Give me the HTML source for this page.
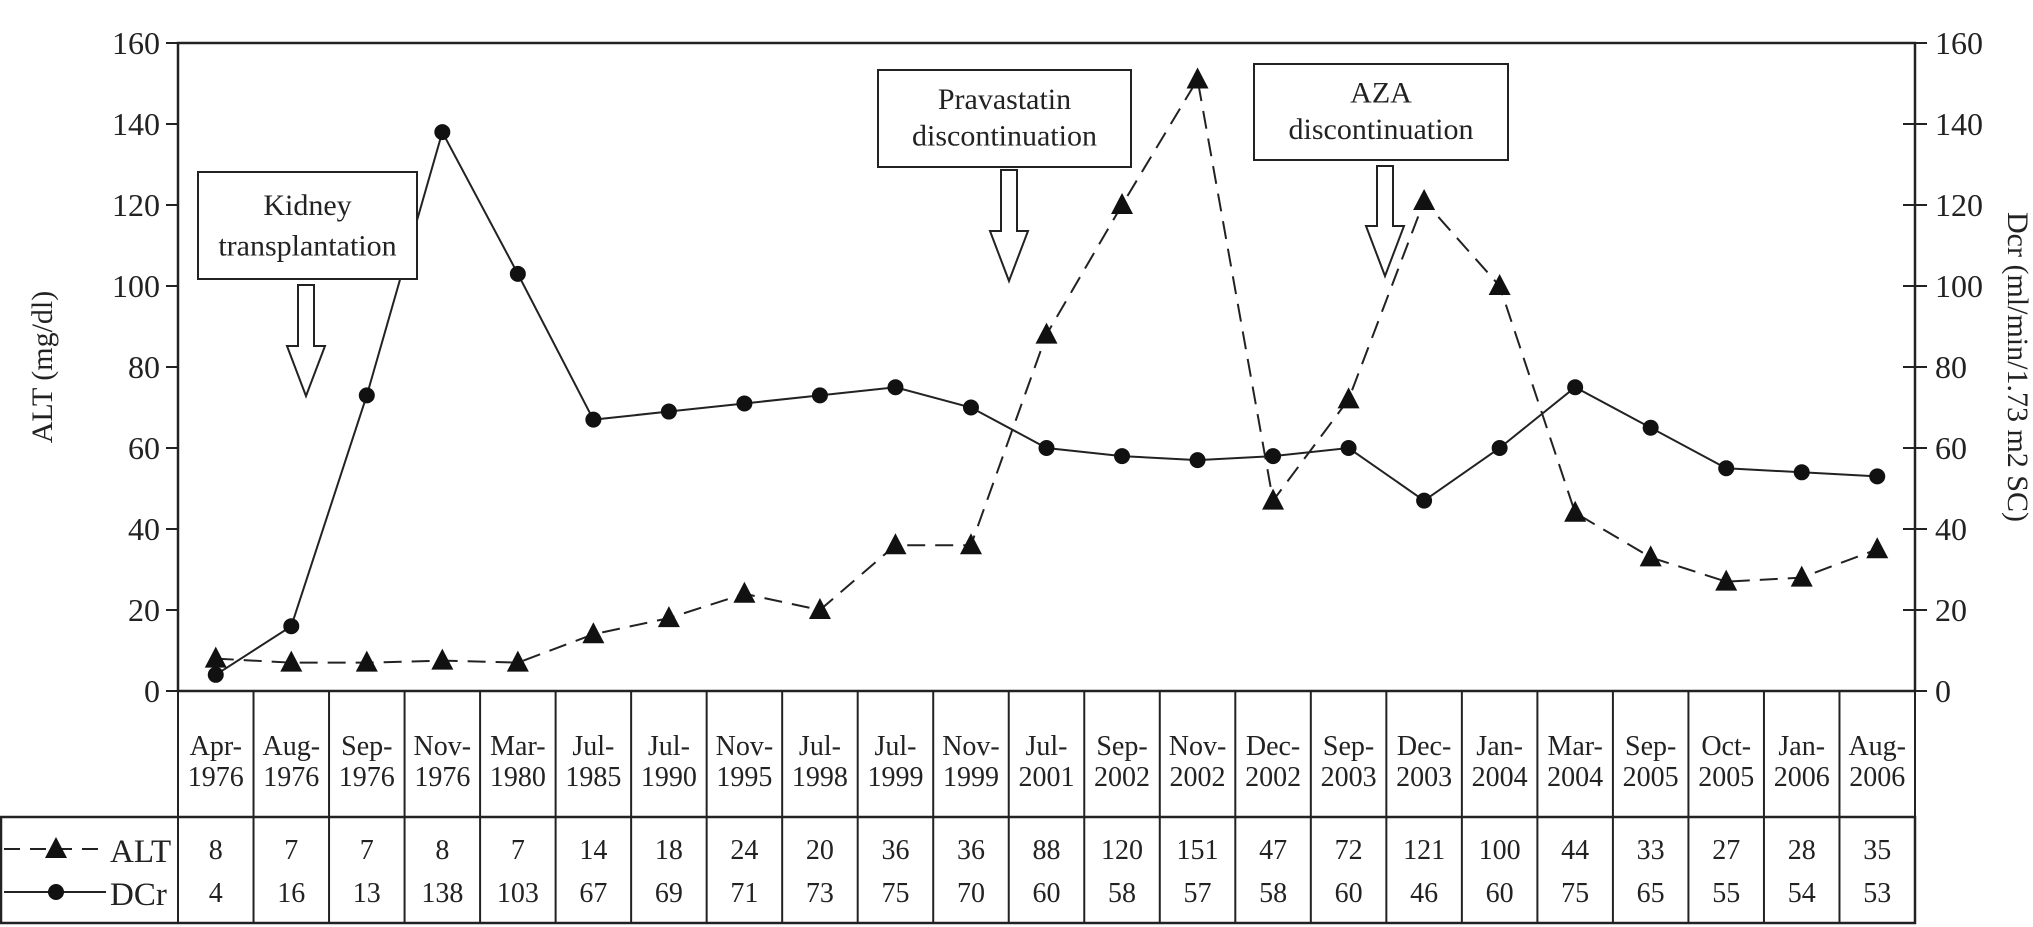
<!DOCTYPE html>
<html><head><meta charset="utf-8"><style>
body{margin:0;background:#fff;}
svg{display:block;font-family:"Liberation Serif",serif;}
</style></head><body>
<svg id="chart" width="2033" height="927" viewBox="0 0 2033 927" xmlns="http://www.w3.org/2000/svg"></svg>
<script>
const categories=[["Apr-","1976"],["Aug-","1976"],["Sep-","1976"],["Nov-","1976"],["Mar-","1980"],["Jul-","1985"],["Jul-","1990"],["Nov-","1995"],["Jul-","1998"],["Jul-","1999"],["Nov-","1999"],["Jul-","2001"],["Sep-","2002"],["Nov-","2002"],["Dec-","2002"],["Sep-","2003"],["Dec-","2003"],["Jan-","2004"],["Mar-","2004"],["Sep-","2005"],["Oct-","2005"],["Jan-","2006"],["Aug-","2006"]];
const altValues=[8,7,7,7.5,7,14,18,24,20,36,36,88,120,151,47,72,121,100,44,33,27,28,35];
const dcrValues=[4,16,73,138,103,67,69,71,73,75,70,60,58,57,58,60,47,60,75,65,55,54,53];
const altTable=["8","7","7","8","7","14","18","24","20","36","36","88","120","151","47","72","121","100","44","33","27","28","35"];
const dcrTable=["4","16","13","138","103","67","69","71","73","75","70","60","58","57","58","60","46","60","75","65","55","54","53"];
const yTicks=[0,20,40,60,80,100,120,140,160];

const svg=document.getElementById('chart');
const NS="http://www.w3.org/2000/svg";
const L=178,R=1915,T=43,B=691,TB=817,TE=923;
const n=categories.length, cw=(R-L)/n;
const x=i=>L+cw*(i+0.5);
const y=v=>B-(v/160)*(B-T);
function mk(tag,at,txt){const e=document.createElementNS(NS,tag);for(const k in at)e.setAttribute(k,at[k]);if(txt!==undefined)e.textContent=txt;svg.appendChild(e);return e;}

let e;
e=mk('rect',{x:L,y:T,width:R-L,height:B-T,fill:'none',stroke:'#222','stroke-width':2.5});



yTicks.forEach(v=>{
 e=mk('line',{x1:L-12,x2:L,y1:y(v),y2:y(v),stroke:'#222','stroke-width':2});
 
 
 e=mk('line',{x1:R-12,x2:R+12,y1:y(v),y2:y(v),stroke:'#222','stroke-width':2});
 
 
 e=mk('text',{x:L-18,y:y(v)+11,'text-anchor':'end','font-size':32,fill:'#222'},String(v));
 
 
 e=mk('text',{x:R+20,y:y(v)+11,'text-anchor':'start','font-size':32,fill:'#222'},String(v));
 
 
});
e=mk('text',{x:0,y:0,transform:`translate(52,${(T+B)/2}) rotate(-90)`,'text-anchor':'middle','font-size':30,fill:'#222'},'ALT (mg/dl)');


e=mk('text',{x:0,y:0,transform:`translate(2008,${(T+B)/2}) rotate(90)`,'text-anchor':'middle','font-size':30,fill:'#222'},'Dcr (ml/min/1.73 m2 SC)');



// table
e=mk('rect',{x:1,y:TB,width:R-1,height:TE-TB,fill:'none',stroke:'#222','stroke-width':2.5});


for(let i=0;i<=n;i++){
 e=mk('line',{x1:L+cw*i,x2:L+cw*i,y1:B,y2:TE,stroke:'#222','stroke-width':2});
 
 
}
categories.forEach((c,i)=>{
 e=mk('text',{x:x(i),y:755,'text-anchor':'middle','font-size':28,fill:'#222'},c[0]);
 
 
 e=mk('text',{x:x(i),y:786,'text-anchor':'middle','font-size':28,fill:'#222'},c[1]);
 
 
 e=mk('text',{x:x(i),y:859,'text-anchor':'middle','font-size':28,fill:'#222'},altTable[i]);
 
 
 e=mk('text',{x:x(i),y:902,'text-anchor':'middle','font-size':28,fill:'#222'},dcrTable[i]);
 
 
});
// legend in table
e=mk('line',{x1:4,x2:105,y1:849,y2:849,stroke:'#222','stroke-width':2,'stroke-dasharray':'16,10'});


e=mk('polygon',{points:'56,837 45,858 67,858',fill:'#111'});


e=mk('text',{x:110,y:862,'font-size':33,fill:'#222'},'ALT');


e=mk('line',{x1:4,x2:106,y1:892,y2:892,stroke:'#222','stroke-width':2});


e=mk('circle',{cx:56,cy:892,r:8,fill:'#111'});


e=mk('text',{x:110,y:905,'font-size':33,fill:'#222'},'DCr');



function box(x0,y0,w,h,l1,l2,ax,ay1,ay2,name){
 e=mk('rect',{x:x0,y:y0,width:w,height:h,fill:'#fff',stroke:'#222','stroke-width':2});
 
 
 e=mk('text',{x:x0+w/2,y:y0+h*0.4,'text-anchor':'middle','font-size':30,fill:'#222'},l1);
 
 
 e=mk('text',{x:x0+w/2,y:y0+h*0.78,'text-anchor':'middle','font-size':30,fill:'#222'},l2);
 
 
 const sh=ay2-50;
 e=mk('polygon',{points:`${ax-8},${ay1} ${ax+8},${ay1} ${ax+8},${sh} ${ax+19},${sh} ${ax},${ay2} ${ax-19},${sh} ${ax-8},${sh}`,fill:'#fff',stroke:'#222','stroke-width':2});
 
 
}
let p='';dcrValues.forEach((v,i)=>p+=(i?'L':'M')+x(i)+','+y(v));
e=mk('path',{d:p,fill:'none',stroke:'#222','stroke-width':2});


p='';altValues.forEach((v,i)=>p+=(i?'L':'M')+x(i)+','+y(v));
e=mk('path',{d:p,fill:'none',stroke:'#222','stroke-width':2,'stroke-dasharray':'18,10'});


box(198,172,219,107,'Kidney','transplantation',306,285,396,'kidney-transplantation');
box(878,70,253,97,'Pravastatin','discontinuation',1009,170,281,'pravastatin-discontinuation');
box(1254,64,254,96,'AZA','discontinuation',1385,166,276,'aza-discontinuation');
dcrValues.forEach((v,i)=>{
 e=mk('circle',{cx:x(i),cy:y(v),r:8,fill:'#111'});
 
 
});
altValues.forEach((v,i)=>{
 const cx=x(i),cy=y(v);
 e=mk('polygon',{points:`${cx},${cy-12} ${cx-11},${cy+9} ${cx+11},${cy+9}`,fill:'#111'});
 
 
});
</script>
</body></html>
